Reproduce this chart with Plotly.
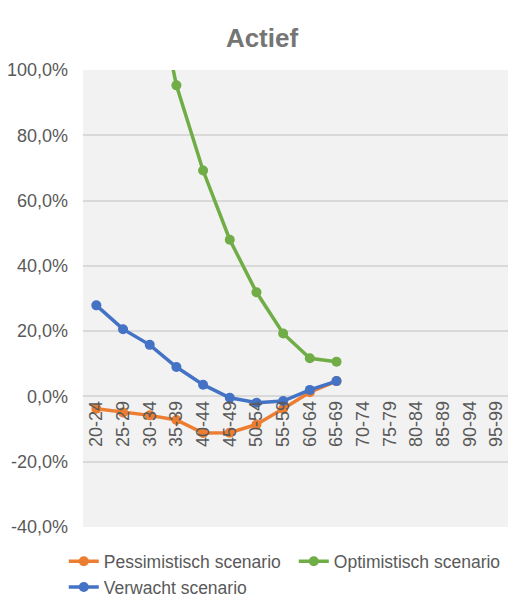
import plotly.graph_objects as go

categories = ["20-24", "25-29", "30-34", "35-39", "40-44", "45-49", "50-54", "55-59",
              "60-64", "65-69", "70-74", "75-79", "80-84", "85-89", "90-94", "95-99"]
pessimistisch = [-0.038, -0.049, -0.058, -0.072, -0.112, -0.111, -0.086, -0.038, 0.013, 0.047,
                 None, None, None, None, None, None]
optimistisch = [None, None, 1.35, 0.953, 0.692, 0.480, 0.319, 0.193, 0.117, 0.106,
                None, None, None, None, None, None]
verwacht = [0.279, 0.206, 0.158, 0.090, 0.036, -0.004, -0.019, -0.014, 0.020, 0.047,
            None, None, None, None, None, None]
y_ticks = [-0.4, -0.2, 0.0, 0.2, 0.4, 0.6, 0.8, 1.0]
y_tick_labels = ["-40,0%", "-20,0%", "0,0%", "20,0%", "40,0%", "60,0%", "80,0%", "100,0%"]

series = [
    ("Pessimistisch scenario", pessimistisch, "#ED7D31"),
    ("Optimistisch scenario", optimistisch, "#70AD47"),
    ("Verwacht scenario", verwacht, "#4472C4"),
]

fig = go.Figure()
for name, vals, color in series:
    fig.add_trace(go.Scatter(
        x=categories, y=vals, name=name, mode="lines+markers",
        line=dict(color=color, width=3.5),
        marker=dict(color=color, size=10),
        connectgaps=False,
    ))

ymin, ymax = -0.4, 1.0
fig.update_layout(
    width=508, height=602,
    margin=dict(l=75, r=6, t=62, b=83, autoexpand=False),
    paper_bgcolor="white",
    plot_bgcolor="#F2F2F2",
    separators=",.",
    font=dict(family="Liberation Sans, Arial, sans-serif", size=18, color="#595959"),
    title=dict(text="<b>Actief</b>", x=0.5, xanchor="center", y=1 - 30 / 602, yanchor="middle",
               font=dict(size=26, color="#757575")),
    showlegend=True,
    legend=dict(orientation="h", x=-0.045, xanchor="left", y=-0.036, yanchor="top",
                entrywidth=185, entrywidthmode="pixels", tracegroupgap=0,
                font=dict(size=17.5, color="#595959"), itemwidth=30),
    xaxis=dict(
        type="category", categoryorder="array", categoryarray=categories,
        range=[-0.5, len(categories) - 0.5], automargin=False,
        showgrid=False, zeroline=False, showline=False, ticks="",
        tickangle=-90, anchor="free", position=(0 - ymin) / (ymax - ymin),
        tickfont=dict(size=18, color="#595959"),
    ),
    yaxis=dict(
        range=[ymin, ymax], tickvals=y_ticks, ticktext=y_tick_labels, automargin=False,
        showgrid=True, gridcolor="#D9D9D9", gridwidth=1.5,
        zeroline=False, showline=False, ticks="",
        tickfont=dict(size=18, color="#595959"), ticklabelstandoff=14,
    ),
)

fig.write_html("out.html")
